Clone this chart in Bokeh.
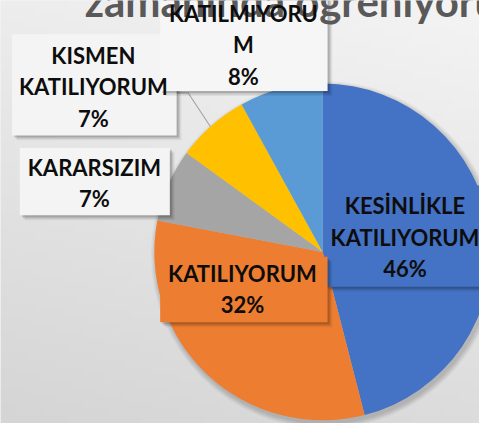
import numpy as np
from bokeh.plotting import figure
from bokeh.models import Range1d, ColumnDataSource
from bokeh.core.properties import value
from bokeh.embed import file_html
from bokeh.resources import INLINE

# ---------------- data ----------------
categories = ["KESİNLİKLE KATILIYORUM", "KATILIYORUM", "KARARSIZIM",
              "KISMEN KATILIYORUM", "KATILMIYORUM"]
label_lines = [["KESİNLİKLE", "KATILIYORUM"], ["KATILIYORUM"], ["KARARSIZIM"],
               ["KISMEN", "KATILIYORUM"], ["KATILMIYORU", "M"]]
percents = [46, 32, 7, 7, 8]
colors = ["#4472C4", "#ED7D31", "#A5A5A5", "#FFC000", "#5B9BD5"]
title_text = "zamanında öğreniyorum"

# ---------------- layout (reference pixel space) ----------------
W, H = 495, 439
FW, FH = 479, 423


def Y(ry):
    return H - ry


cx, cy, R = 333, 261, 174

# label placement: center x, first-line y, box (x0, x1, y0, y1), fill
label_pos = [
    (418, 213, (336, 520, 192, 297), "#4472C4"),
    (250, 283, (165, 338, 266, 334), "#ED7D31"),
    (97, 173, (20, 175, 153, 223), "#F4F4F4"),
    (96, 57, (12, 182, 35, 140), "#F4F4F4"),
    (251, 13, (165, 338, -20, 94), "#F6F6F6"),
]
line_step = 32.7
leaders = [
    ([273, 284, 290], [81, 81, 92]),
    ([182, 194, 217], [96, 96, 131]),
]

p = figure(width=FW, height=FH, output_backend="svg", toolbar_location=None,
           x_range=Range1d(0, W), y_range=Range1d(0, H), min_border=0)
p.axis.visible = False
p.grid.visible = False
p.outline_line_color = None
p.background_fill_color = "#e8e8e8"
p.border_fill_color = "#ffffff"

# background gradient
ny, nx = 60, 70
gy, gx = np.mgrid[0:ny, 0:nx]
rx = gx / (nx - 1)
ryy = 1 - gy / (ny - 1)  # top row of screen -> ry = 0
v = 244 - 24 * ryy - 7 * (1 - rx)
v = np.clip(v, 0, 255).astype(np.uint32)
img = (255 << 24) | (v << 16) | (v << 8) | v
p.image_rgba(image=[img.astype(np.uint32)], x=0, y=0, dw=W, dh=H)

# pie shadow
for k, a in enumerate([0.05, 0.05, 0.05, 0.04]):
    p.circle(x=cx + 2, y=Y(cy) - 3, radius=R + 1 + k * 1.5,
             fill_color="black", fill_alpha=a, line_color=None)

# wedges
vals = np.array(percents, dtype=float)
cum = np.concatenate([[0], np.cumsum(vals)]) / vals.sum()
a_start = np.deg2rad(90 - cum[1:] * 360)
a_end = np.deg2rad(90 - cum[:-1] * 360)
src = ColumnDataSource(dict(start=a_start, end=a_end, color=colors, cat=categories))
p.wedge(x=cx, y=Y(cy), radius=R, start_angle="start", end_angle="end",
        fill_color="color", line_color=None, source=src)

# leader lines
for xs, ys in leaders:
    p.line(x=xs, y=[Y(t) for t in ys], line_color="#A6A6A6", line_width=1.2)

# label boxes
for (tx, ty, (x0, x1, y0, y1), fill) in label_pos:
    for off, a in [(5, 0.06), (3.5, 0.10), (2, 0.14)]:
        p.quad(left=x0 + off, right=x1 + off, top=Y(y0 + off), bottom=Y(y1 + off),
               fill_color="black", fill_alpha=a, line_color=None)
    p.quad(left=x0, right=x1, top=Y(y0), bottom=Y(y1), fill_color=fill,
           line_color=None)

# title (clipped at top)
p.text(x=[87], y=[Y(1)], text=[title_text], text_font=value("Lato"),
       text_font_style="bold", text_font_size="42px", text_color="#595959",
       text_baseline="alphabetic", text_align="left")

# label texts
fs = "22px"
for (tx, ty, _, _), lines, pct in zip(label_pos, label_lines, percents):
    all_lines = lines + [f"{pct}%"]
    xs = [tx] * len(all_lines)
    ys = [Y(ty + i * line_step) for i in range(len(all_lines))]
    p.text(x=xs, y=ys, text=all_lines, text_font=value("Lato"),
           text_font_style="bold", text_font_size=fs, text_color="#0D0D0D",
           text_align="center", text_baseline="middle")

open("out.html", "w").write(file_html(p, INLINE))
